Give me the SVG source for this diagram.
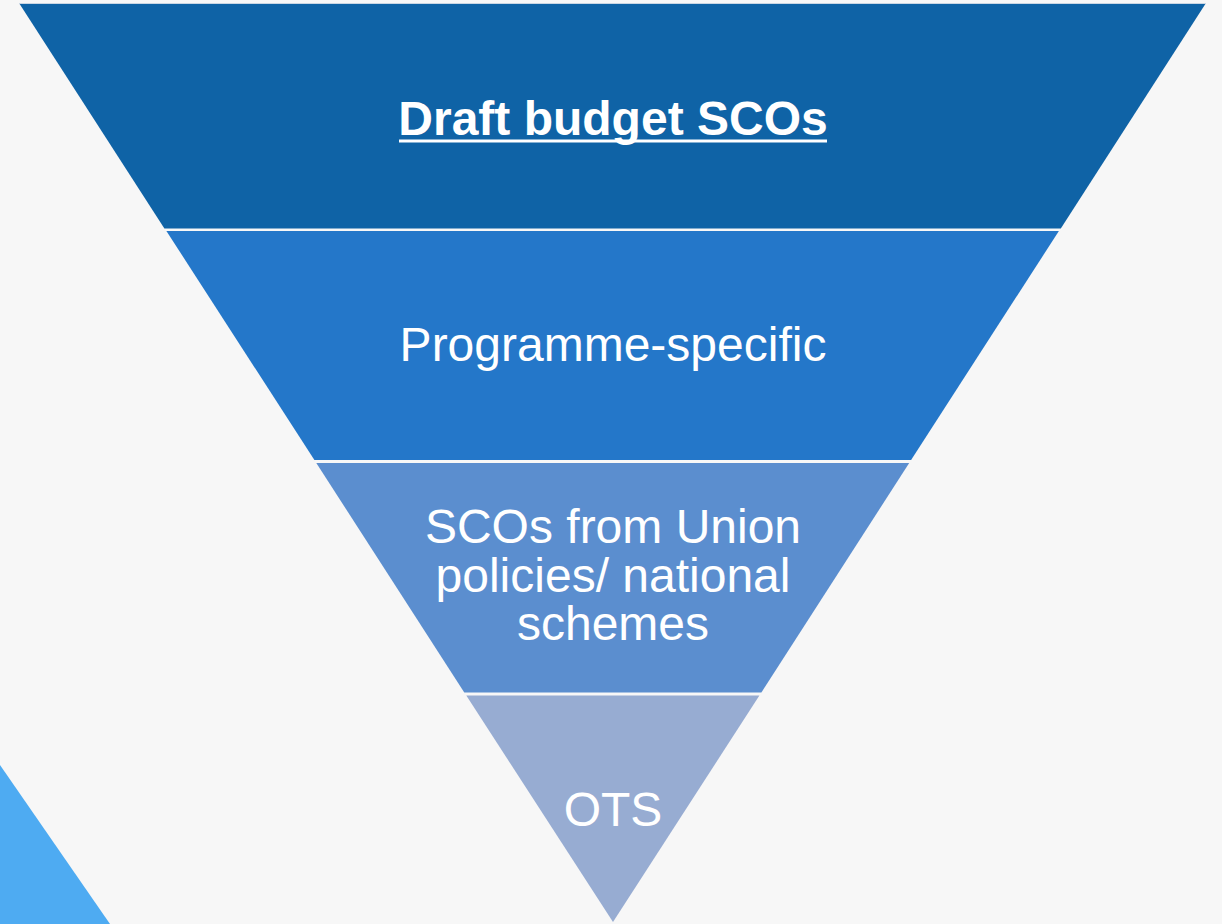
<svg xmlns="http://www.w3.org/2000/svg" width="1222" height="924" viewBox="0 0 1222 924">
  <style>
    .lbl { font-family: "Liberation Sans", Arial, sans-serif; font-size: 48px; fill: #ffffff; text-anchor: middle; }
    .bold { font-weight: bold; }
  </style>
  <rect x="0" y="0" width="1222" height="924" fill="#f7f7f7"/>
  <polygon points="0,765 110,924 0,924" fill="#4eabf2"/>
  <g id="band1">
    <polygon points="19,3 1206,3 1060.8,228.5 164.4,228.5" fill="#0f63a6"/>
    <line x1="19" y1="3.5" x2="1206" y2="3.5" stroke="#c9d6e4" stroke-width="1"/>
    <text class="lbl bold" x="613" y="135">Draft budget SCOs</text>
    <rect x="399" y="139.5" width="428" height="3" fill="#ffffff"/>
  </g>
  <g id="band2">
    <polygon points="166.4,231 1058.9,231 911.1,460 314.4,460" fill="#2477c9"/>
    <text class="lbl" x="613" y="361">Programme-specific</text>
  </g>
  <g id="band3">
    <polygon points="316.3,463 909.2,463 761.4,692.5 464.3,692.5" fill="#5b8ecf"/>
    <text class="lbl" x="613" y="543">SCOs from Union</text>
    <text class="lbl" x="613" y="591.5">policies/ national</text>
    <text class="lbl" x="613" y="640">schemes</text>
  </g>
  <g id="band4">
    <polygon points="466.3,695.5 759.4,695.5 613,922" fill="#97acd2"/>
    <text class="lbl" x="613" y="826">OTS</text>
  </g>
  <g id="connectors"></g>
</svg>
